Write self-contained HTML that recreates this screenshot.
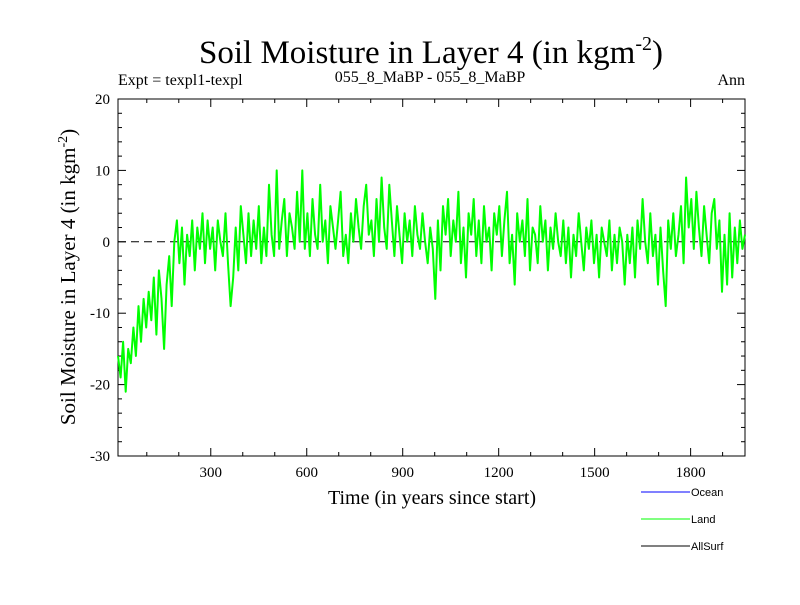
<!DOCTYPE html>
<html><head><meta charset="utf-8"><style>
body{margin:0;background:#fff;}
svg text{font-family:"Liberation Serif",serif;}
</style></head><body>
<svg id="chart" width="800" height="600" xmlns="http://www.w3.org/2000/svg">
<rect width="800" height="600" fill="#fff"/>
<text x="431" y="63" font-size="33" text-anchor="middle">Soil Moisture in Layer 4 (in kgm<tspan font-size="20" dy="-13">-2</tspan><tspan dy="13">)</tspan></text>
<text x="118" y="85" font-size="16">Expt = texpl1-texpl</text>
<text x="430" y="82" font-size="16" text-anchor="middle">055_8_MaBP - 055_8_MaBP</text>
<text x="745" y="85" font-size="16" text-anchor="end">Ann</text>
<text transform="translate(75,277) rotate(-90)" font-size="21" text-anchor="middle">Soil Moisture in Layer 4 (in kgm<tspan font-size="14" dy="-8">-2</tspan><tspan dy="8">)</tspan></text>
<text x="432" y="504" font-size="20" text-anchor="middle">Time (in years since start)</text>
<g id="axes"></g>
<g id="series"></g>
<g>
<line x1="641" y1="492" x2="690" y2="492" stroke="#0000ff"/>
<text x="691" y="496" font-size="11" style="font-family:'Liberation Sans',sans-serif">Ocean</text>
<line x1="641" y1="519" x2="690" y2="519" stroke="#00ff00"/>
<text x="691" y="523" font-size="11" style="font-family:'Liberation Sans',sans-serif">Land</text>
<line x1="641" y1="546" x2="690" y2="546" stroke="#000"/>
<text x="691" y="550" font-size="11" style="font-family:'Liberation Sans',sans-serif">AllSurf</text>
</g>
</svg>
<script>
const startYear = 10;
const yearStep = 8;
const landValues = [
-16,-19,-14,-21,-15,-17,-12,-16,-9,-14,-8,-12,-7,-11,-5,-13,-4,-8,-15,-6,-2,-9,0,3,
-3,2,-6,1,-2,3,-4,2,-1,4,-3,3,-1,2,-4,3,0,-2,4,-3,-9,-5,2,-4,5,
1,-3,4,-2,3,-1,5,-3,2,-2,8,1,-2,10,-1,3,6,-2,4,2,-1,7,0,10,-1,
4,-2,6,1,-1,8,0,3,-3,5,2,-1,3,7,-2,1,-3,4,0,6,2,-1,5,8,1,
3,-2,6,0,9,2,-1,8,3,-2,5,1,-3,4,0,3,-2,5,1,-1,4,0,-3,2,-1,
-8,3,-4,5,1,6,-2,3,0,7,-3,2,-5,4,1,6,-2,3,-3,5,0,2,-4,4,1,
5,-2,3,7,-3,1,-6,4,0,3,-2,6,-4,2,1,-3,5,0,3,-4,2,-1,4,0,-2,
3,-3,2,-5,1,-2,4,0,-4,2,-1,3,-3,1,-5,2,0,-2,3,-4,1,-3,2,0,-6,
1,-3,2,-5,3,-1,6,0,-3,4,-2,1,-6,2,-4,-9,3,-1,4,-2,1,5,-3,9,2,
6,-1,7,2,-2,5,1,-3,4,6,-1,3,-7,1,-6,4,-5,2,-3,3,-1,1
];
const xTickLabels = [300,600,900,1200,1500,1800];
const yTickLabels = [-30,-20,-10,0,10,20];
const xMin = 10, xMax = 1970, yMin = -30, yMax = 20;
const L = 118, R = 745, T = 99, B = 456;
const NS = "http://www.w3.org/2000/svg";
function xs(v){return L + (v - xMin) / (xMax - xMin) * (R - L);}
function ys(v){return B - (v - yMin) / (yMax - yMin) * (B - T);}
function mk(tag, attrs, parent){const e=document.createElementNS(NS,tag);for(const k in attrs)e.setAttribute(k,attrs[k]);parent.appendChild(e);return e;}
const axes = document.getElementById('axes');
const frame = mk('rect',{x:L,y:T,width:R-L,height:B-T,fill:'none',stroke:'#000','stroke-width':1},axes);


const zero = mk('line',{x1:L,x2:R,y1:ys(0),y2:ys(0),stroke:'#000','stroke-dasharray':'8,5'},axes);


for(let v=yMin; v<=yMax; v+=2){
  const len = (v%10===0)?8:4;
  mk('line',{x1:L,x2:L+len,y1:ys(v),y2:ys(v),stroke:'#000'},axes);
  mk('line',{x1:R,x2:R-len,y1:ys(v),y2:ys(v),stroke:'#000'},axes);
}
yTickLabels.forEach(v=>{
  const t = mk('text',{x:L-8,y:ys(v)+5,'font-size':15,'text-anchor':'end'},axes);
  t.textContent = v;
  
  
});
for(let v=100; v<=xMax; v+=100){
  const len = (v%300===0)?8:4;
  mk('line',{x1:xs(v),x2:xs(v),y1:B,y2:B-len,stroke:'#000'},axes);
  mk('line',{x1:xs(v),x2:xs(v),y1:T,y2:T+len,stroke:'#000'},axes);
}
xTickLabels.forEach(v=>{
  const t = mk('text',{x:xs(v),y:B+21,'font-size':15,'text-anchor':'middle'},axes);
  t.textContent = v;
  
  
});
const pts = landValues.map((v,i)=>xs(startYear+i*yearStep).toFixed(1)+','+ys(v).toFixed(1)).join(' ');
const line = mk('polyline',{points:pts,fill:'none',stroke:'#00ff00','stroke-width':2,'stroke-linejoin':'round'},document.getElementById('series'));


</script>
</body></html>
